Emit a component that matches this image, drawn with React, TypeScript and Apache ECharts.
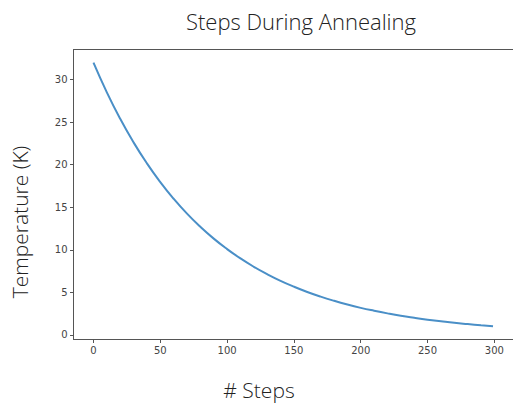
import React, { useEffect, useRef } from "react";
import * as echarts from "echarts";

const steps = [0, 10, 20, 30, 40, 50, 60, 70, 80, 90, 100, 110, 120, 130, 140, 150, 160, 170, 180, 190, 200, 210, 220, 230, 240, 250, 260, 270, 280, 290, 299];
const temperature = [32.0, 28.51, 25.4, 22.63, 20.16, 17.96, 16.0, 14.25, 12.7, 11.31, 10.08, 8.98, 8.0, 7.13, 6.35, 5.66, 5.04, 4.49, 4.0, 3.56, 3.17, 2.83, 2.52, 2.24, 2.0, 1.78, 1.59, 1.41, 1.26, 1.12, 1.01];
const xTicks = [0, 50, 100, 150, 200, 250, 300];
const yTicks = [0, 5, 10, 15, 20, 25, 30];

const titleText = "Steps During Annealing";
const xName = "# Steps";
const yName = "Temperature (K)";

export default function App() {
  const ref = useRef<HTMLDivElement>(null);
  useEffect(() => {
    if (!ref.current) return;
    const chart = echarts.init(ref.current, null, { renderer: "svg" });
    const labelFont = "'Open Sans', sans-serif";
    const frame = { color: "#555555", width: 1 };
    const tickFont = {
      fontFamily: "'DejaVu Sans', sans-serif",
      fontSize: 10,
      color: "#444444",
    };
    chart.setOption({
      animation: false,
      backgroundColor: "#ffffff",
      grid: {
        left: 73.5,
        top: 49.5,
        right: -3.5,
        bottom: 67.5,
        show: false,
      },
      graphic: [
        {
          type: "text",
          x: 301,
          y: 21,
          style: {
            text: titleText,
            font: `300 22px ${labelFont}`,
            fill: "#222222",
            align: "center",
            verticalAlign: "middle",
          },
        },
        {
          type: "text",
          x: 259,
          y: 390,
          style: {
            text: xName,
            font: `300 21px ${labelFont}`,
            fill: "#222222",
            align: "center",
            verticalAlign: "middle",
          },
        },
        {
          type: "text",
          x: 20,
          y: 222,
          rotation: Math.PI / 2,
          style: {
            text: yName,
            font: `300 21px ${labelFont}`,
            fill: "#222222",
            align: "center",
            verticalAlign: "middle",
          },
        },
      ],
      xAxis: [
        {
          type: "value",
          position: "bottom",
          min: -14.95,
          max: 313.95,
          splitLine: { show: false },
          axisLine: { show: true, onZero: false, lineStyle: frame },
          axisTick: { show: true, length: 3.5, customValues: xTicks, lineStyle: frame },
          axisLabel: { customValues: xTicks, margin: 6, ...tickFont },
        },
        {
          type: "value",
          position: "top",
          min: -14.95,
          max: 313.95,
          splitLine: { show: false },
          axisLine: { show: true, onZero: false, lineStyle: frame },
          axisTick: { show: false },
          axisLabel: { show: false },
        },
      ],
      yAxis: {
        type: "value",
        min: -0.55,
        max: 33.55,
        splitLine: { show: false },
        axisLine: { show: true, onZero: false, lineStyle: frame },
        axisTick: { show: true, length: 3.5, customValues: yTicks, lineStyle: frame },
        axisLabel: { customValues: yTicks, margin: 6, ...tickFont },
      },
      series: [
        {
          type: "line",
          xAxisIndex: 0,
          data: steps.map((s, i) => [s, temperature[i]]),
          smooth: true,
          showSymbol: false,
          symbol: "none",
          lineStyle: { color: "#4a8fc7", width: 2 },
        },
      ],
    });
    return () => chart.dispose();
  }, []);
  return (
    <div
      ref={ref}
      style={{ position: "fixed", left: 0, top: 0, width: 513, height: 407 }}
    />
  );
}
